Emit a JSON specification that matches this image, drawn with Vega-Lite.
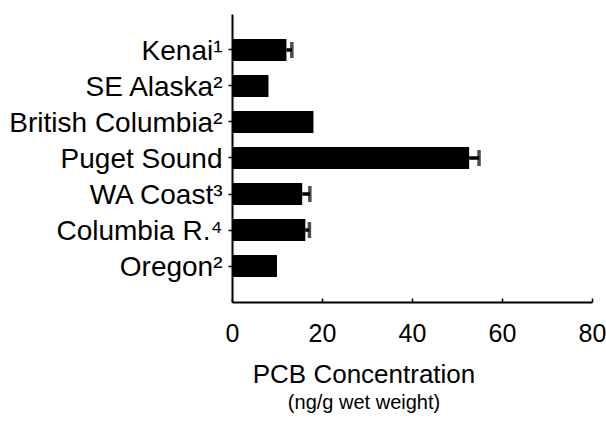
{
  "$schema": "https://vega.github.io/schema/vega-lite/v6.json",
  "width": 360,
  "height": 288,
  "autosize": "none",
  "padding": {"left": 232, "top": 14, "right": 14, "bottom": 121},
  "background": "white",
  "config": {"view": {"stroke": null}},
  "data": {
    "values": [
      {"site": "Kenai¹", "pcb": 12.1, "upper": 13.3},
      {"site": "SE Alaska²", "pcb": 8.1, "upper": null},
      {"site": "British Columbia²", "pcb": 18.1, "upper": null},
      {"site": "Puget Sound ", "pcb": 52.7, "upper": 54.9},
      {"site": "WA Coast³", "pcb": 15.6, "upper": 17.3},
      {"site": "Columbia R.⁴", "pcb": 16.3, "upper": 17.2},
      {"site": "Oregon²", "pcb": 10.0, "upper": null}
    ]
  },
  "title": {
    "text": "PCB Concentration",
    "subtitle": "(ng/g wet weight)",
    "orient": "bottom",
    "anchor": "middle",
    "dx": -48,
    "offset": 16,
    "font": "Liberation Sans",
    "fontSize": 26,
    "fontWeight": "normal",
    "color": "black",
    "subtitleFont": "Liberation Sans",
    "subtitleFontSize": 20,
    "subtitleColor": "black",
    "subtitlePadding": 5
  },
  "encoding": {
    "y": {
      "field": "site",
      "type": "nominal",
      "sort": null,
      "scale": {"paddingInner": 0.39, "paddingOuter": 0.694},
      "axis": {
        "title": null,
        "domainColor": "black",
        "domainWidth": 2,
        "tickColor": "black",
        "tickWidth": 1.5,
        "tickSize": 4,
        "labelPadding": 6,
        "labelFont": "Liberation Sans",
        "labelFontSize": 28,
        "labelColor": "black",
        "labelLimit": 300,
        "labelOffset": 2
      }
    }
  },
  "layer": [
    {
      "mark": {"type": "bar", "color": "black"},
      "encoding": {
        "x": {
          "field": "pcb",
          "type": "quantitative",
          "scale": {"domain": [0, 80], "nice": false},
          "axis": {
            "title": null,
            "values": [0, 20, 40, 60, 80],
            "grid": false,
            "domainColor": "black",
            "domainWidth": 2,
            "tickColor": "black",
            "tickWidth": 1.5,
            "tickSize": -4,
            "labelPadding": 23,
            "labelFont": "Liberation Sans",
            "labelFontSize": 25,
            "labelColor": "black",
            "labelFlush": false
          }
        }
      }
    },
    {
      "mark": {"type": "rule", "color": "black", "strokeWidth": 3.5},
      "encoding": {
        "x": {"field": "pcb", "type": "quantitative"},
        "x2": {"field": "upper"}
      }
    },
    {
      "mark": {"type": "tick", "color": "black", "thickness": 3.5, "size": 16},
      "encoding": {
        "x": {"field": "upper", "type": "quantitative"}
      }
    }
  ]
}
